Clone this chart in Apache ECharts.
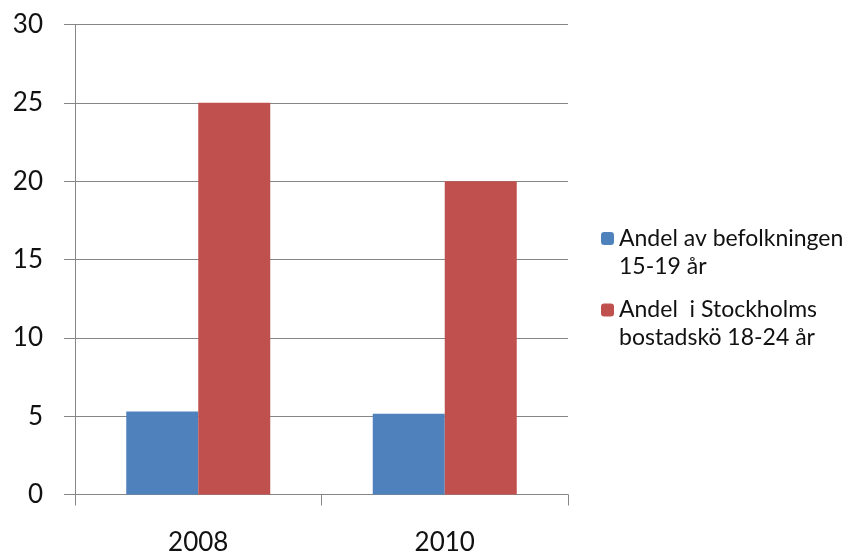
<!DOCTYPE html>
<html>
<head>
<meta charset="utf-8">
<script src="https://cdn.jsdelivr.net/npm/echarts@6/dist/echarts.min.js"></script>
<style>html,body{margin:0;padding:0;background:#fff}#c{width:855px;height:558px}</style>
</head>
<body>
<div id="c"></div>
<script>
const categories = ['2008', '2010'];
const seriesNames = ['Andel av befolkningen\n15-19 år', 'Andel  i Stockholms\nbostadskö 18-24 år'];
const befolkning = [5.3, 5.15];
const bostadsko = [25, 20];
const yTicks = [0, 30, 5];

const chart = echarts.init(document.getElementById('c'), null, {renderer: 'canvas'});
const font = 'Lato, "Open Sans", sans-serif';
const axisColor = '#868686';
const legendText = {fontFamily: font, fontSize: 23, color: '#111', lineHeight: 28};
// leading blank line so the icon sits level with the first text line
const legendFmt = name => ' \n' + name;
chart.setOption({
  animation: false,
  backgroundColor: '#fff',
  grid: {left: 75, right: 287, top: 24.5, bottom: 63.5, containLabel: false},
  legend: [
    {data: [seriesNames[0]], orient: 'vertical', left: 601, top: 196.5, padding: 0, itemWidth: 13, itemHeight: 13,
     formatter: legendFmt, textStyle: legendText},
    {data: [seriesNames[1]], orient: 'vertical', left: 601, top: 268, padding: 0, itemWidth: 13, itemHeight: 13,
     formatter: legendFmt, textStyle: legendText}
  ],
  xAxis: {
    type: 'category', data: categories,
    axisLine: {show: true, lineStyle: {color: axisColor, width: 1}},
    axisTick: {show: true, length: 11, alignWithLabel: false, lineStyle: {color: axisColor}},
    axisLabel: {fontFamily: font, fontSize: 26, color: '#111', margin: 35}
  },
  yAxis: {
    type: 'value', min: yTicks[0], max: yTicks[1], interval: yTicks[2],
    axisLine: {show: true, lineStyle: {color: axisColor, width: 1}},
    axisTick: {show: true, length: 11, lineStyle: {color: axisColor}},
    axisLabel: {fontFamily: font, fontSize: 26, color: '#111', margin: 32},
    splitLine: {show: true, lineStyle: {color: axisColor, width: 1}}
  },
  series: [
    {name: seriesNames[0], type: 'bar', data: befolkning, barWidth: 72, barGap: '0%', itemStyle: {color: '#4F81BD'}},
    {name: seriesNames[1], type: 'bar', data: bostadsko, barWidth: 72, barGap: '0%', itemStyle: {color: '#C0504D'}}
  ]
});
</script>
</body>
</html>
